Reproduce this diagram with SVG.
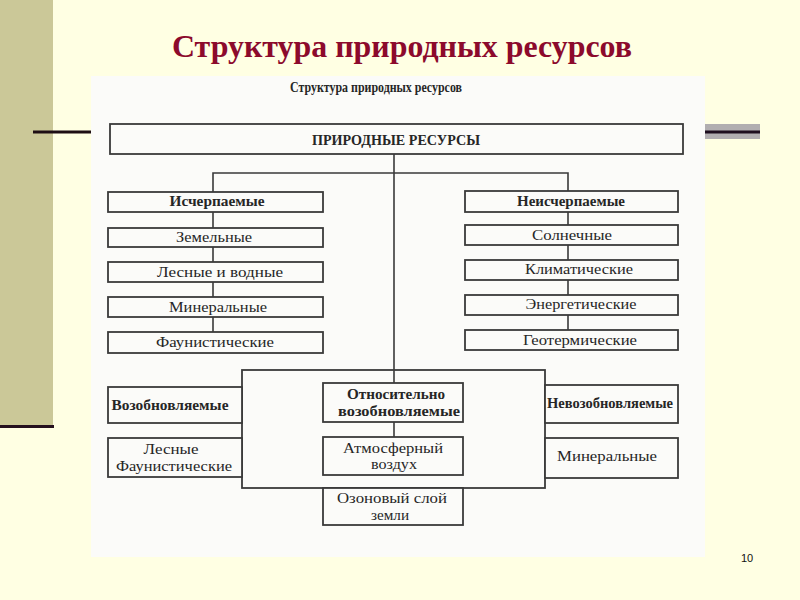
<svg xmlns="http://www.w3.org/2000/svg" width="800" height="600" viewBox="0 0 800 600">
<style>
.box{fill:#fbfbf9;stroke:#3a3a3a;stroke-width:1.8}
.frame{fill:none;stroke:#3a3a3a;stroke-width:1.8}
.con{fill:none;stroke:#3a3a3a;stroke-width:1.6}
.t{font-family:"Liberation Serif","DejaVu Serif",serif;font-size:15px;fill:#262626;text-anchor:middle}
.b{font-weight:bold}
</style>
<rect x="0" y="0" width="800" height="600" fill="#ffffe3"/>
<rect x="0" y="0" width="53" height="425" fill="#cbc898"/>
<line x1="0" y1="426.5" x2="54" y2="426.5" stroke="#25101e" stroke-width="3"/>
<line x1="33" y1="132" x2="91" y2="132" stroke="#1e0e14" stroke-width="3"/>
<rect x="702" y="124" width="58" height="15" fill="#b1aeb0"/>
<line x1="702" y1="132" x2="760" y2="132" stroke="#1e0e1e" stroke-width="3"/>
<text x="402" y="57" font-family="'Liberation Serif',serif" font-size="32" font-weight="bold" fill="#8c0a2c" text-anchor="middle" textLength="460" lengthAdjust="spacingAndGlyphs">Структура природных ресурсов</text>
<rect x="91" y="76" width="614" height="481" fill="#fbfbf9"/>
<text class="t b" x="376" y="92" font-size="13" textLength="172" lengthAdjust="spacingAndGlyphs">Структура природных ресурсов</text>
<text x="747" y="562" font-family="'Liberation Sans',Arial,sans-serif" font-size="11" fill="#111" text-anchor="middle">10</text>

<g id="connectors">
<polyline class="con" points="213,332 213,173 568,173 568,330"/>
<line class="con" x1="394" y1="154" x2="394" y2="437"/>
</g>

<g id="frame"><rect class="frame" x="242" y="370" width="303" height="118"/></g>

<g id="root"><rect class="box" x="110" y="124" width="573" height="30"/>
<text class="t b" x="396" y="145" font-size="14" textLength="168" lengthAdjust="spacingAndGlyphs">ПРИРОДНЫЕ РЕСУРСЫ</text></g>

<g id="ischerp"><rect class="box" x="108" y="192" width="215" height="20"/>
<text class="t b" x="217" y="206" textLength="95" lengthAdjust="spacingAndGlyphs">Исчерпаемые</text></g>
<g id="zemel"><rect class="box" x="108" y="228" width="215" height="19"/>
<text class="t" x="214" y="242" textLength="76" lengthAdjust="spacingAndGlyphs">Земельные</text></g>
<g id="lesvod"><rect class="box" x="108" y="262" width="215" height="20"/>
<text class="t" x="220" y="277" textLength="126" lengthAdjust="spacingAndGlyphs">Лесные и водные</text></g>
<g id="miner1"><rect class="box" x="108" y="297" width="215" height="20"/>
<text class="t" x="218" y="312" textLength="98" lengthAdjust="spacingAndGlyphs">Минеральные</text></g>
<g id="faun1"><rect class="box" x="108" y="332" width="215" height="21"/>
<text class="t" x="215" y="347" textLength="118" lengthAdjust="spacingAndGlyphs">Фаунистические</text></g>

<g id="neischerp"><rect class="box" x="465" y="191" width="213" height="21"/>
<text class="t b" x="571" y="206" textLength="108" lengthAdjust="spacingAndGlyphs">Неисчерпаемые</text></g>
<g id="solnech"><rect class="box" x="465" y="225" width="213" height="20"/>
<text class="t" x="572" y="240" textLength="80" lengthAdjust="spacingAndGlyphs">Солнечные</text></g>
<g id="klimat"><rect class="box" x="465" y="260" width="213" height="20"/>
<text class="t" x="579" y="274" textLength="108" lengthAdjust="spacingAndGlyphs">Климатические</text></g>
<g id="energ"><rect class="box" x="465" y="295" width="213" height="20"/>
<text class="t" x="581" y="309" textLength="111" lengthAdjust="spacingAndGlyphs">Энергетические</text></g>
<g id="geoterm"><rect class="box" x="465" y="330" width="213" height="20"/>
<text class="t" x="580" y="345" textLength="114" lengthAdjust="spacingAndGlyphs">Геотермические</text></g>

<g id="vozob"><rect class="box" x="108" y="387" width="134" height="36"/>
<text class="t b" x="170" y="410" textLength="117" lengthAdjust="spacingAndGlyphs">Возобновляемые</text></g>
<g id="lesfaun"><rect class="box" x="108" y="438" width="134" height="39"/>
<text class="t" x="171" y="454" textLength="55" lengthAdjust="spacingAndGlyphs">Лесные</text>
<text class="t" x="174" y="471" textLength="116" lengthAdjust="spacingAndGlyphs">Фаунистические</text></g>

<g id="otnos"><rect class="box" x="323" y="383" width="140" height="39"/>
<text class="t b" x="396" y="399" textLength="98" lengthAdjust="spacingAndGlyphs">Относительно</text>
<text class="t b" x="399" y="416" textLength="122" lengthAdjust="spacingAndGlyphs">возобновляемые</text></g>
<g id="atmos"><rect class="box" x="323" y="437" width="140" height="38"/>
<text class="t" x="393" y="453" textLength="100" lengthAdjust="spacingAndGlyphs">Атмосферный</text>
<text class="t" x="394" y="469" textLength="46" lengthAdjust="spacingAndGlyphs">воздух</text></g>
<g id="ozon"><rect class="box" x="323" y="488" width="140" height="37"/>
<text class="t" x="392" y="503" textLength="110" lengthAdjust="spacingAndGlyphs">Озоновый слой</text>
<text class="t" x="390" y="520" textLength="38" lengthAdjust="spacingAndGlyphs">земли</text></g>

<g id="nevozob"><rect class="box" x="545" y="385" width="133" height="38"/>
<text class="t b" x="610" y="408" textLength="126" lengthAdjust="spacingAndGlyphs">Невозобновляемые</text></g>
<g id="miner2"><rect class="box" x="545" y="438" width="133" height="40"/>
<text class="t" x="607" y="461" textLength="100" lengthAdjust="spacingAndGlyphs">Минеральные</text></g>
</svg>
